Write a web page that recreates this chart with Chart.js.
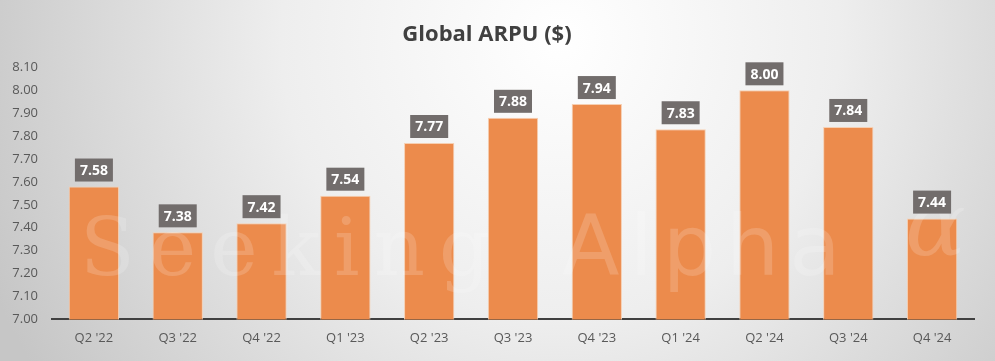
<!DOCTYPE html>
<html>
<head>
<meta charset="utf-8">
<script src="https://cdn.jsdelivr.net/npm/chart.js@4"></script>
<style>
  html, body { margin: 0; padding: 0; background: #fff; }
  #wrap { width: 995px; height: 361px; position: relative; }
</style>
</head>
<body>
<div id="wrap"><canvas id="arpuChart" width="995" height="361"></canvas></div>
<script>
// Chart data
const quarters = ["Q2 '22", "Q3 '22", "Q4 '22", "Q1 '23", "Q2 '23", "Q3 '23", "Q4 '23", "Q1 '24", "Q2 '24", "Q3 '24", "Q4 '24"];
const arpu = [7.58, 7.38, 7.42, 7.54, 7.77, 7.88, 7.94, 7.83, 8.00, 7.84, 7.44];
const yMin = 7.00;
const yMax = 8.10;
const yStep = 0.10;

const fontFamily = '"Open Sans", "Noto Sans", sans-serif';

// Radial grey background
const backgroundPlugin = {
    id: 'bg',
    beforeDraw(chart) {
        const { ctx, width, height } = chart;
        ctx.save();
        const g = ctx.createRadialGradient(560, 40, 0, 560, 40, 620);
        g.addColorStop(0, '#ffffff');
        g.addColorStop(0.45, '#eeeeee');
        g.addColorStop(1, '#c6c6c6');
        ctx.fillStyle = g;
        ctx.fillRect(0, 0, width, height);
        ctx.restore();
    }
};

// Faint watermark
const watermarkPlugin = {
    id: 'watermark',
    afterDatasetsDraw(chart) {
        const { ctx } = chart;
        ctx.save();
        ctx.fillStyle = 'rgba(255, 255, 255, 0.17)';
        ctx.textBaseline = 'alphabetic';
        ctx.textAlign = 'left';
        ctx.letterSpacing = '14px';
        ctx.font = '80px "DejaVu Serif", serif';
        ctx.fillText('Seeking', 80, 275);
        ctx.letterSpacing = '10px';
        ctx.font = '84px "DejaVu Sans", sans-serif';
        ctx.fillText('Alpha', 562, 275);
        ctx.letterSpacing = '0px';
        ctx.font = 'italic 90px "DejaVu Serif", serif';
        ctx.fillText('\u03B1', 905, 255);
        ctx.restore();
    }
};

// Value labels in dark boxes above bars
const boxLabelPlugin = {
    id: 'boxLabels',
    afterDatasetsDraw(chart) {
        const { ctx } = chart;
        const meta = chart.getDatasetMeta(0);
        ctx.save();
        ctx.font = 'bold 14px ' + fontFamily;
        ctx.textAlign = 'center';
        ctx.textBaseline = 'middle';
        meta.data.forEach((bar, i) => {
            const text = arpu[i].toFixed(2);
            const w = 38, h = 23;
            const x = bar.x - w / 2;
            const y = bar.y - 5 - h;
            ctx.fillStyle = '#726d6c';
            ctx.fillRect(x, y, w, h);
            ctx.fillStyle = '#ffffff';
            ctx.fillText(text, bar.x, y + h / 2 + 1);
        });
        ctx.restore();
    }
};

const ctx = document.getElementById('arpuChart');
const arpuChart = new Chart(ctx, {
    type: 'bar',
    data: {
        labels: quarters,
        datasets: [{
            label: 'Global ARPU ($)',
            data: arpu,
            backgroundColor: '#ec8b4c',
            borderColor: '#f6cfb2',
            borderWidth: { left: 1, right: 1, top: 1, bottom: 0 },
            borderSkipped: 'bottom',
            barPercentage: 0.6,
            categoryPercentage: 1.0
        }]
    },
    options: {
        responsive: false,
        animation: false,
        layout: {
            padding: { left: 0, right: 21, top: 0, bottom: 4 }
        },
        plugins: {
            legend: { display: false },
            tooltip: { enabled: false },
            title: {
                display: true,
                text: 'Global ARPU ($)',
                color: '#404040',
                font: { family: fontFamily, size: 22, weight: 'bold' },
                padding: { top: 22, bottom: 19 }
            }
        },
        scales: {
            x: {
                grid: { display: false, drawTicks: false },
                border: { display: true, color: '#404040', width: 2 },
                ticks: {
                    color: '#595959',
                    font: { family: fontFamily, size: 13 },
                    padding: 11
                }
            },
            y: {
                min: yMin,
                max: yMax,
                grid: { display: false, drawTicks: false },
                border: { display: false },
                afterFit: scale => { scale.width = 52; },
                ticks: {
                    stepSize: yStep,
                    color: '#595959',
                    font: { family: fontFamily, size: 13 },
                    padding: 14,
                    callback: v => Number(v).toFixed(2)
                }
            }
        }
    },
    plugins: [backgroundPlugin, watermarkPlugin, boxLabelPlugin]
});
</script>
</body>
</html>
